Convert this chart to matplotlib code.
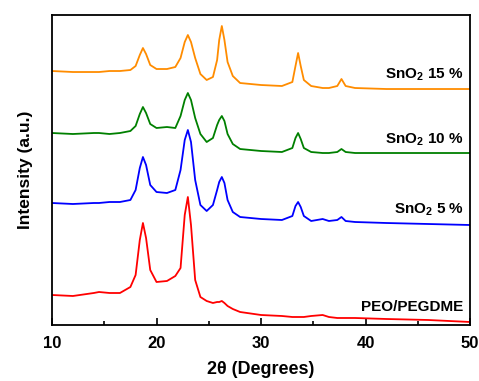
import matplotlib
matplotlib.use("Agg")
import matplotlib.pyplot as plt
from matplotlib.ticker import MultipleLocator

plt.rcParams['font.family'] = ['Liberation Sans', 'DejaVu Sans']
plt.rcParams['font.weight'] = 'bold'
plt.rcParams['mathtext.default'] = 'regular'

# 2theta sample positions (degrees)
two_theta = [10, 12, 14, 14.5, 15.5, 16.5, 17.5, 18.0, 18.4, 18.7, 19.0, 19.4, 20.0, 21.0,
             21.8, 22.3, 22.7, 23.0, 23.3, 23.7, 24.2, 24.8, 25.4, 25.8, 26.0, 26.25, 26.5,
             26.8, 27.3, 28, 30, 32, 33.0, 33.3, 33.55, 33.8, 34.1, 34.8, 35.9, 36.5, 37.3,
             37.7, 38.1, 39, 42, 46, 50]

# intensities (a.u., curves already stacked)
sno2_15 = [254, 253, 253, 253, 254, 254, 255, 259, 270, 277, 271, 260, 256, 256, 258, 267,
           283, 290, 283, 267, 251, 245, 248, 265, 285, 299, 285, 263, 249, 242, 240, 239,
           243, 259, 272, 259, 245, 239, 237, 237, 239, 246, 239, 237, 236, 236, 236]
sno2_10 = [192, 191, 192, 192, 191, 192, 194, 199, 211, 218, 212, 201, 197, 198, 197, 209,
           225, 232, 225, 207, 191, 183, 187, 200, 205, 209, 204, 191, 181, 176, 174, 173,
           177, 187, 192, 186, 177, 173, 172, 172, 173, 176, 173, 172, 172, 172, 172]
sno2_5 = [122, 121, 122, 122, 123, 123, 125, 135, 157, 168, 160, 140, 133, 132, 135, 155,
          185, 195, 183, 145, 120, 114, 120, 135, 143, 148, 142, 125, 113, 108, 106, 105,
          109, 119, 123, 118, 109, 104, 106, 104, 105, 108, 104, 103, 102, 101, 100]
peo = [30, 29, 32, 33, 32, 32, 38, 50, 85, 102, 87, 55, 43, 44, 49, 57,
       110, 128, 100, 45, 28, 24, 22, 23, 23, 24, 22, 19, 16, 13, 10, 9,
       8, 8, 8, 8, 8, 9, 10, 8, 7, 7, 7, 7, 6, 5, 3]

series = [peo, sno2_5, sno2_10, sno2_15]
names = ['PEO/PEGDME', 'SnO$_2$ 5 %', 'SnO$_2$ 10 %', 'SnO$_2$ 15 %']
colors = ['#ff0000', '#0000ff', '#008000', '#ff8c00']
label_y = [18, 115, 185, 250]

fig = plt.figure(figsize=(4.79, 3.81), dpi=100)
ax = fig.add_axes([0.1086, 0.147, 0.8726, 0.8136])

for ys, name, c, ly in zip(series, names, colors, label_y):
    ax.plot(two_theta, ys, color=c, lw=1.3)
    ax.text(49.4, ly, name, ha='right', va='center', fontsize=11, fontweight='bold')

ax.set_xlim(10, 50)
ax.set_ylim(0, 310)
ax.xaxis.set_major_locator(MultipleLocator(10))
ax.xaxis.set_minor_locator(MultipleLocator(5))
ax.tick_params(axis='x', which='major', direction='in', length=5, width=1.2, labelsize=12, pad=8)
ax.tick_params(axis='x', which='minor', direction='in', length=3, width=1.2)
ax.set_yticks([])
for s in ax.spines.values():
    s.set_linewidth(1.3)

ax.set_xlabel('2θ (Degrees)', fontsize=13, fontweight='bold', labelpad=7)
ax.set_ylabel('Intensity (a.u.)', fontsize=12.5, fontweight='bold')
ax.yaxis.set_label_coords(-0.045, 0.50)

fig.savefig('out.png', dpi=100)
